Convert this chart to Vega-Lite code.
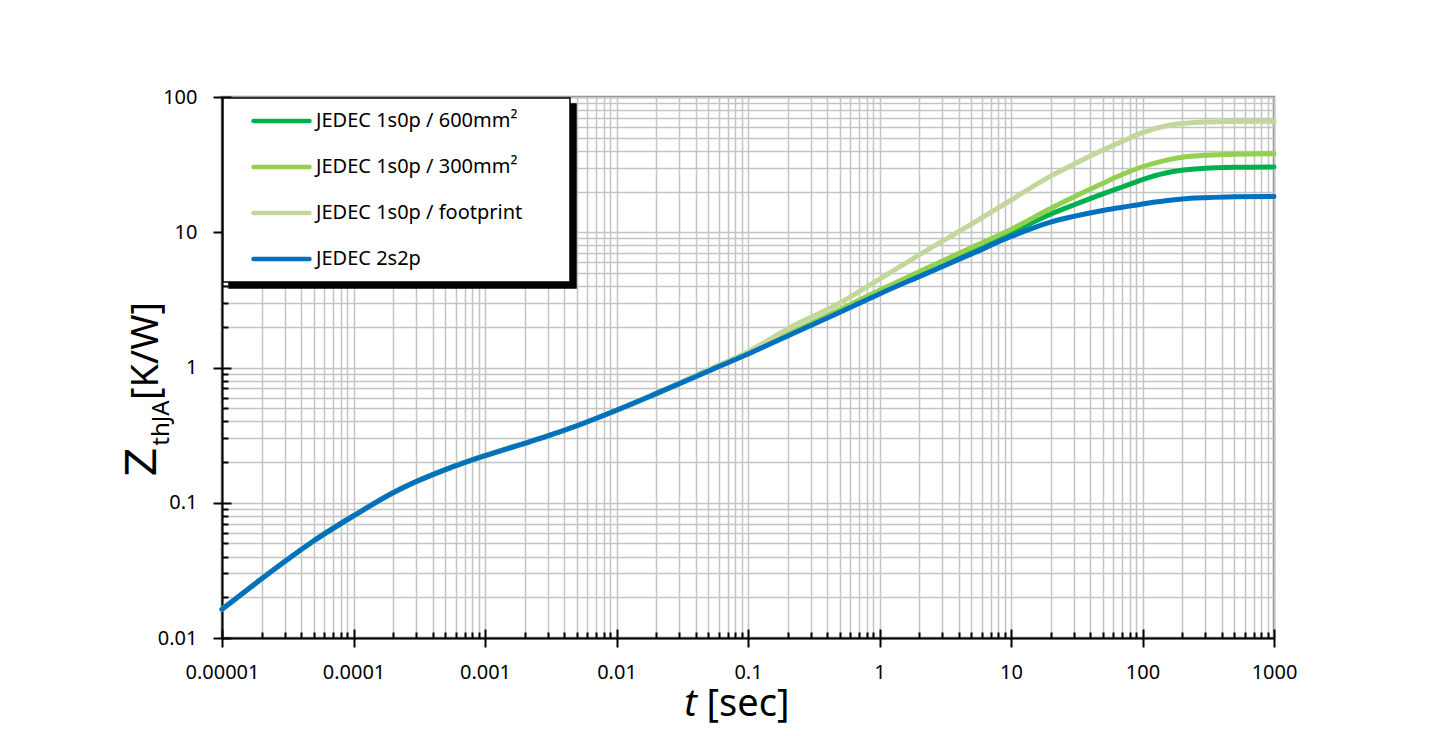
{
  "$schema": "https://vega.github.io/schema/vega-lite/v6.json",
  "width": 1052,
  "height": 541,
  "autosize": {"type": "none"},
  "padding": {"left": 222, "top": 97, "right": 177, "bottom": 98},
  "background": "white",
  "config": {
    "view": {"stroke": "#8c8c8c", "strokeWidth": 2.5},
    "font": "Noto Sans",
    "legend": {"strokeWidth": 1.5}
  },
  "datasets": {
    "zth": [
      {"s": "JEDEC 1s0p / 600mm²", "t": 0.00001, "z": 0.0163},
      {"s": "JEDEC 1s0p / 600mm²", "t": 0.00002, "z": 0.0274},
      {"s": "JEDEC 1s0p / 600mm²", "t": 0.00003, "z": 0.0368},
      {"s": "JEDEC 1s0p / 600mm²", "t": 0.00005, "z": 0.0524},
      {"s": "JEDEC 1s0p / 600mm²", "t": 0.0001, "z": 0.080},
      {"s": "JEDEC 1s0p / 600mm²", "t": 0.0002, "z": 0.1186},
      {"s": "JEDEC 1s0p / 600mm²", "t": 0.0003, "z": 0.1435},
      {"s": "JEDEC 1s0p / 600mm²", "t": 0.0005, "z": 0.176},
      {"s": "JEDEC 1s0p / 600mm²", "t": 0.001, "z": 0.223},
      {"s": "JEDEC 1s0p / 600mm²", "t": 0.002, "z": 0.275},
      {"s": "JEDEC 1s0p / 600mm²", "t": 0.003, "z": 0.312},
      {"s": "JEDEC 1s0p / 600mm²", "t": 0.005, "z": 0.371},
      {"s": "JEDEC 1s0p / 600mm²", "t": 0.01, "z": 0.483},
      {"s": "JEDEC 1s0p / 600mm²", "t": 0.02, "z": 0.641},
      {"s": "JEDEC 1s0p / 600mm²", "t": 0.05, "z": 0.942},
      {"s": "JEDEC 1s0p / 600mm²", "t": 0.1, "z": 1.27},
      {"s": "JEDEC 1s0p / 600mm²", "t": 0.2, "z": 1.73},
      {"s": "JEDEC 1s0p / 600mm²", "t": 0.5, "z": 2.6},
      {"s": "JEDEC 1s0p / 600mm²", "t": 1, "z": 3.6},
      {"s": "JEDEC 1s0p / 600mm²", "t": 2, "z": 4.9},
      {"s": "JEDEC 1s0p / 600mm²", "t": 5, "z": 7.3},
      {"s": "JEDEC 1s0p / 600mm²", "t": 10, "z": 9.9},
      {"s": "JEDEC 1s0p / 600mm²", "t": 20, "z": 13.6},
      {"s": "JEDEC 1s0p / 600mm²", "t": 30, "z": 15.9},
      {"s": "JEDEC 1s0p / 600mm²", "t": 50, "z": 19.2},
      {"s": "JEDEC 1s0p / 600mm²", "t": 70, "z": 21.6},
      {"s": "JEDEC 1s0p / 600mm²", "t": 100, "z": 24.5},
      {"s": "JEDEC 1s0p / 600mm²", "t": 150, "z": 27.4},
      {"s": "JEDEC 1s0p / 600mm²", "t": 200, "z": 28.7},
      {"s": "JEDEC 1s0p / 600mm²", "t": 300, "z": 29.7},
      {"s": "JEDEC 1s0p / 600mm²", "t": 500, "z": 30.2},
      {"s": "JEDEC 1s0p / 600mm²", "t": 1000, "z": 30.4},

      {"s": "JEDEC 1s0p / 300mm²", "t": 0.00001, "z": 0.0163},
      {"s": "JEDEC 1s0p / 300mm²", "t": 0.00002, "z": 0.0274},
      {"s": "JEDEC 1s0p / 300mm²", "t": 0.00003, "z": 0.0368},
      {"s": "JEDEC 1s0p / 300mm²", "t": 0.00005, "z": 0.0524},
      {"s": "JEDEC 1s0p / 300mm²", "t": 0.0001, "z": 0.080},
      {"s": "JEDEC 1s0p / 300mm²", "t": 0.0002, "z": 0.1186},
      {"s": "JEDEC 1s0p / 300mm²", "t": 0.0003, "z": 0.1435},
      {"s": "JEDEC 1s0p / 300mm²", "t": 0.0005, "z": 0.176},
      {"s": "JEDEC 1s0p / 300mm²", "t": 0.001, "z": 0.223},
      {"s": "JEDEC 1s0p / 300mm²", "t": 0.002, "z": 0.275},
      {"s": "JEDEC 1s0p / 300mm²", "t": 0.003, "z": 0.312},
      {"s": "JEDEC 1s0p / 300mm²", "t": 0.005, "z": 0.371},
      {"s": "JEDEC 1s0p / 300mm²", "t": 0.01, "z": 0.483},
      {"s": "JEDEC 1s0p / 300mm²", "t": 0.02, "z": 0.641},
      {"s": "JEDEC 1s0p / 300mm²", "t": 0.05, "z": 0.95},
      {"s": "JEDEC 1s0p / 300mm²", "t": 0.1, "z": 1.28},
      {"s": "JEDEC 1s0p / 300mm²", "t": 0.2, "z": 1.76},
      {"s": "JEDEC 1s0p / 300mm²", "t": 0.5, "z": 2.68},
      {"s": "JEDEC 1s0p / 300mm²", "t": 1, "z": 3.72},
      {"s": "JEDEC 1s0p / 300mm²", "t": 2, "z": 5.1},
      {"s": "JEDEC 1s0p / 300mm²", "t": 5, "z": 7.7},
      {"s": "JEDEC 1s0p / 300mm²", "t": 10, "z": 10.5},
      {"s": "JEDEC 1s0p / 300mm²", "t": 20, "z": 15.0},
      {"s": "JEDEC 1s0p / 300mm²", "t": 30, "z": 18.2},
      {"s": "JEDEC 1s0p / 300mm²", "t": 50, "z": 23.0},
      {"s": "JEDEC 1s0p / 300mm²", "t": 70, "z": 26.7},
      {"s": "JEDEC 1s0p / 300mm²", "t": 100, "z": 30.5},
      {"s": "JEDEC 1s0p / 300mm²", "t": 150, "z": 34.0},
      {"s": "JEDEC 1s0p / 300mm²", "t": 200, "z": 35.9},
      {"s": "JEDEC 1s0p / 300mm²", "t": 300, "z": 37.1},
      {"s": "JEDEC 1s0p / 300mm²", "t": 500, "z": 37.8},
      {"s": "JEDEC 1s0p / 300mm²", "t": 1000, "z": 38.1},

      {"s": "JEDEC 1s0p / footprint", "t": 0.00001, "z": 0.0163},
      {"s": "JEDEC 1s0p / footprint", "t": 0.00002, "z": 0.0274},
      {"s": "JEDEC 1s0p / footprint", "t": 0.00003, "z": 0.0368},
      {"s": "JEDEC 1s0p / footprint", "t": 0.00005, "z": 0.0524},
      {"s": "JEDEC 1s0p / footprint", "t": 0.0001, "z": 0.080},
      {"s": "JEDEC 1s0p / footprint", "t": 0.0002, "z": 0.1186},
      {"s": "JEDEC 1s0p / footprint", "t": 0.0003, "z": 0.1435},
      {"s": "JEDEC 1s0p / footprint", "t": 0.0005, "z": 0.176},
      {"s": "JEDEC 1s0p / footprint", "t": 0.001, "z": 0.223},
      {"s": "JEDEC 1s0p / footprint", "t": 0.002, "z": 0.275},
      {"s": "JEDEC 1s0p / footprint", "t": 0.003, "z": 0.312},
      {"s": "JEDEC 1s0p / footprint", "t": 0.005, "z": 0.371},
      {"s": "JEDEC 1s0p / footprint", "t": 0.01, "z": 0.483},
      {"s": "JEDEC 1s0p / footprint", "t": 0.02, "z": 0.643},
      {"s": "JEDEC 1s0p / footprint", "t": 0.05, "z": 0.965},
      {"s": "JEDEC 1s0p / footprint", "t": 0.1, "z": 1.31},
      {"s": "JEDEC 1s0p / footprint", "t": 0.2, "z": 1.93},
      {"s": "JEDEC 1s0p / footprint", "t": 0.5, "z": 3.0},
      {"s": "JEDEC 1s0p / footprint", "t": 1, "z": 4.5},
      {"s": "JEDEC 1s0p / footprint", "t": 2, "z": 6.8},
      {"s": "JEDEC 1s0p / footprint", "t": 5, "z": 11.5},
      {"s": "JEDEC 1s0p / footprint", "t": 10, "z": 17.3},
      {"s": "JEDEC 1s0p / footprint", "t": 20, "z": 26.0},
      {"s": "JEDEC 1s0p / footprint", "t": 30, "z": 31.8},
      {"s": "JEDEC 1s0p / footprint", "t": 50, "z": 40.5},
      {"s": "JEDEC 1s0p / footprint", "t": 70, "z": 47.0},
      {"s": "JEDEC 1s0p / footprint", "t": 100, "z": 54.5},
      {"s": "JEDEC 1s0p / footprint", "t": 150, "z": 61.0},
      {"s": "JEDEC 1s0p / footprint", "t": 200, "z": 63.6},
      {"s": "JEDEC 1s0p / footprint", "t": 300, "z": 65.3},
      {"s": "JEDEC 1s0p / footprint", "t": 500, "z": 66.0},
      {"s": "JEDEC 1s0p / footprint", "t": 1000, "z": 66.2},

      {"s": "JEDEC 2s2p", "t": 0.00001, "z": 0.0163},
      {"s": "JEDEC 2s2p", "t": 0.00002, "z": 0.0274},
      {"s": "JEDEC 2s2p", "t": 0.00003, "z": 0.0368},
      {"s": "JEDEC 2s2p", "t": 0.00005, "z": 0.0524},
      {"s": "JEDEC 2s2p", "t": 0.0001, "z": 0.080},
      {"s": "JEDEC 2s2p", "t": 0.0002, "z": 0.1186},
      {"s": "JEDEC 2s2p", "t": 0.0003, "z": 0.1435},
      {"s": "JEDEC 2s2p", "t": 0.0005, "z": 0.176},
      {"s": "JEDEC 2s2p", "t": 0.001, "z": 0.223},
      {"s": "JEDEC 2s2p", "t": 0.002, "z": 0.275},
      {"s": "JEDEC 2s2p", "t": 0.003, "z": 0.312},
      {"s": "JEDEC 2s2p", "t": 0.005, "z": 0.371},
      {"s": "JEDEC 2s2p", "t": 0.01, "z": 0.483},
      {"s": "JEDEC 2s2p", "t": 0.02, "z": 0.641},
      {"s": "JEDEC 2s2p", "t": 0.05, "z": 0.942},
      {"s": "JEDEC 2s2p", "t": 0.1, "z": 1.26},
      {"s": "JEDEC 2s2p", "t": 0.2, "z": 1.71},
      {"s": "JEDEC 2s2p", "t": 0.5, "z": 2.56},
      {"s": "JEDEC 2s2p", "t": 1, "z": 3.5},
      {"s": "JEDEC 2s2p", "t": 2, "z": 4.7},
      {"s": "JEDEC 2s2p", "t": 5, "z": 6.9},
      {"s": "JEDEC 2s2p", "t": 10, "z": 9.3},
      {"s": "JEDEC 2s2p", "t": 20, "z": 11.9},
      {"s": "JEDEC 2s2p", "t": 30, "z": 13.1},
      {"s": "JEDEC 2s2p", "t": 50, "z": 14.5},
      {"s": "JEDEC 2s2p", "t": 70, "z": 15.3},
      {"s": "JEDEC 2s2p", "t": 100, "z": 16.2},
      {"s": "JEDEC 2s2p", "t": 150, "z": 17.1},
      {"s": "JEDEC 2s2p", "t": 200, "z": 17.6},
      {"s": "JEDEC 2s2p", "t": 300, "z": 18.0},
      {"s": "JEDEC 2s2p", "t": 500, "z": 18.3},
      {"s": "JEDEC 2s2p", "t": 1000, "z": 18.4}
    ]
  },
  "data": {"name": "zth"},
  "resolve": {"axis": {"x": "independent", "y": "independent"}},
  "layer": [
    {
      "mark": {"type": "line", "strokeOpacity": 0, "strokeWidth": 5},
      "encoding": {
        "x": {
          "field": "t", "type": "quantitative",
          "scale": {"type": "log", "domain": [0.00001, 1000], "nice": false},
          "axis": {
            "orient": "bottom",
            "grid": true, "gridColor": "#c4c4c4", "gridWidth": 1.5, "tickCount": 50,
            "labels": false, "domain": false, "ticks": true, "tickColor": "black", "tickWidth": 2,
            "tickSize": {"condition": {"test": "abs(log(datum.value)/LN10 - round(log(datum.value)/LN10)) < 0.001", "value": -9}, "value": -6},
            "title": "t", "titleFont": "Noto Sans", "titleFontStyle": "italic", "titleFontWeight": "normal",
            "titleFontSize": 38, "titleColor": "black", "titleX": 468, "titleY": 77,
            "titleAlign": "center", "titleBaseline": "alphabetic"
          }
        },
        "y": {
          "field": "z", "type": "quantitative",
          "scale": {"type": "log", "domain": [0.01, 100], "nice": false},
          "axis": {
            "orient": "left",
            "grid": true, "gridColor": "#c4c4c4", "gridWidth": 1.5, "tickCount": 50,
            "labels": false, "domain": false, "ticks": true, "tickColor": "black", "tickWidth": 2,
            "tickSize": {"condition": {"test": "abs(log(datum.value)/LN10 - round(log(datum.value)/LN10)) < 0.001", "value": -9}, "value": -6},
            "title": "Z", "titleFont": "DejaVu Sans", "titleFontWeight": "normal",
            "titleFontSize": 42, "titleColor": "black", "titleX": -67, "titleY": 364.5,
            "titleAngle": -90, "titleAlign": "center", "titleBaseline": "alphabetic"
          }
        },
        "color": {
          "field": "s", "type": "nominal",
          "scale": {
            "domain": ["JEDEC 1s0p / 600mm²", "JEDEC 1s0p / 300mm²", "JEDEC 1s0p / footprint", "JEDEC 2s2p"],
            "range": ["black", "black", "black", "black"]
          },
          "legend": {
            "orient": "top-left", "offset": 7, "title": null,
            "fillColor": "black", "strokeColor": "black", "padding": 11, "clipHeight": 24, "rowPadding": 22,
            "symbolType": "stroke", "symbolSize": 102400, "symbolStrokeWidth": 4.5, "symbolOffset": 0,
            "labelOffset": 0, "labelFontSize": 20, "labelLimit": 500,
            "labelExpr": "''",
            "zindex": 0
          }
        }
      }
    },
    {
      "mark": {"type": "line", "strokeWidth": 5, "interpolate": "monotone", "strokeCap": "round"},
      "encoding": {
        "x": {
          "field": "t", "type": "quantitative",
          "scale": {"type": "log", "domain": [0.00001, 1000], "nice": false},
          "axis": {
            "orient": "bottom",
            "values": [0.00001, 0.0001, 0.001, 0.01, 0.1, 1, 10, 100, 1000], "format": "~f",
            "grid": false, "domain": true, "domainColor": "black", "domainWidth": 2,
            "ticks": true, "tickColor": "black", "tickWidth": 2, "tickSize": 9,
            "labelFont": "Noto Sans", "labelFontSize": 20, "labelColor": "black",
            "labelBaseline": "alphabetic", "labelPadding": 31, "labelFlush": false, "labelOverlap": false,
            "title": "[sec]", "titleFont": "Noto Sans", "titleFontWeight": "normal", "titleFontSize": 38,
            "titleColor": "black", "titleX": 525.5, "titleY": 77, "titleAlign": "center", "titleBaseline": "alphabetic"
          }
        },
        "y": {
          "field": "z", "type": "quantitative",
          "scale": {"type": "log", "domain": [0.01, 100], "nice": false},
          "axis": {
            "orient": "left",
            "values": [0.01, 0.1, 1, 10, 100], "format": "~f",
            "grid": false, "domain": true, "domainColor": "black", "domainWidth": 2,
            "ticks": true, "tickColor": "black", "tickWidth": 2, "tickSize": 9,
            "labelFont": "Noto Sans", "labelFontSize": 20, "labelColor": "black",
            "labelPadding": 16, "labelFlush": false, "labelOverlap": false,
            "title": "[K/W]", "titleFont": "Noto Sans", "titleFontWeight": "normal", "titleFontSize": 38,
            "titleColor": "black", "titleX": -65, "titleY": 253.5, "titleAngle": -90,
            "titleAlign": "center", "titleBaseline": "alphabetic"
          }
        },
        "stroke": {
          "field": "s", "type": "nominal",
          "scale": {
            "domain": ["JEDEC 1s0p / 600mm²", "JEDEC 1s0p / 300mm²", "JEDEC 1s0p / footprint", "JEDEC 2s2p"],
            "range": ["#00b050", "#92d050", "#c3d69b", "#0070c0"]
          },
          "legend": {
            "orient": "none", "legendX": 1, "legendY": 1, "title": null,
            "fillColor": "white", "strokeColor": "black", "padding": 11, "clipHeight": 24, "rowPadding": 22,
            "symbolType": "stroke", "symbolSize": 3136, "symbolStrokeWidth": 4.5, "symbolOffset": 17,
            "labelOffset": 4, "labelFont": "Noto Sans", "labelFontSize": 20, "labelColor": "black", "labelLimit": 500,
            "labelExpr": "datum.label + '    ⠀'",
            "zindex": 1,
            "encode": {"symbols": {"update": {"strokeCap": {"value": "round"}}}}
          }
        }
      }
    },
    {
      "mark": {"type": "line", "strokeOpacity": 0},
      "encoding": {
        "x": {
          "field": "t", "type": "quantitative",
          "scale": {"type": "log", "domain": [0.00001, 1000], "nice": false},
          "axis": null
        },
        "y": {
          "field": "z", "type": "quantitative",
          "scale": {"type": "log", "domain": [0.01, 100], "nice": false},
          "axis": {
            "orient": "left",
            "grid": false, "domain": false, "ticks": false, "labels": false,
            "title": "thJA", "titleFont": "Noto Sans", "titleFontWeight": "normal", "titleFontSize": 24,
            "titleColor": "black", "titleX": -54, "titleY": 325.5, "titleAngle": -90,
            "titleAlign": "center", "titleBaseline": "alphabetic"
          }
        }
      }
    }
  ]
}
